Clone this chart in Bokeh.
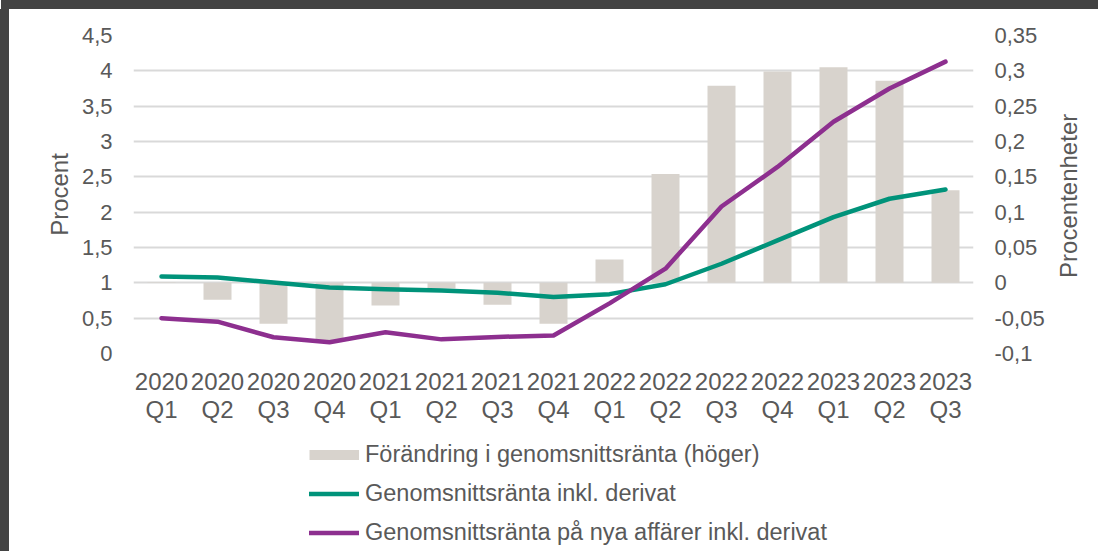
import math
from bokeh.plotting import figure
from bokeh.layouts import column, row
from bokeh.models import (Range1d, LinearAxis, FixedTicker, CustomJSTickFormatter,
                          Legend, LegendItem, FactorRange, Div)
from bokeh.embed import file_html
from bokeh.resources import INLINE

quarters = ["2020\nQ1", "2020\nQ2", "2020\nQ3", "2020\nQ4",
            "2021\nQ1", "2021\nQ2", "2021\nQ3", "2021\nQ4",
            "2022\nQ1", "2022\nQ2", "2022\nQ3", "2022\nQ4",
            "2023\nQ1", "2023\nQ2", "2023\nQ3"]
# Förändring i genomsnittsränta (höger axel, procentenheter)
change = [0.001, -0.024, -0.058, -0.081, -0.032, -0.008, -0.031, -0.058,
          0.033, 0.154, 0.279, 0.299, 0.305, 0.286, 0.131]
# Genomsnittsränta inkl. derivat (procent)
avg_rate = [1.09, 1.075, 1.005, 0.935, 0.91, 0.89, 0.86, 0.80,
            0.84, 0.98, 1.27, 1.60, 1.93, 2.19, 2.32]
# Genomsnittsränta på nya affärer inkl. derivat (procent)
new_rate = [0.50, 0.45, 0.23, 0.16, 0.30, 0.20, 0.235, 0.255,
            0.71, 1.20, 2.08, 2.64, 3.28, 3.75, 4.13]

left_ticks = [0, 0.5, 1, 1.5, 2, 2.5, 3, 3.5, 4, 4.5]
right_ticks = [-0.1, -0.05, 0, 0.05, 0.1, 0.15, 0.2, 0.25, 0.3, 0.35]

left_title = "Procent"
right_title = "Procentenheter"
labels = ["Förändring i genomsnittsränta (höger)",
          "Genomsnittsränta inkl. derivat",
          "Genomsnittsränta på nya affärer inkl. derivat"]

FONT = "Liberation Sans"
TXT = "#595959"
BAR = "#D8D3CD"
TEAL = "#00937A"
PURPLE = "#8D2F8F"
DARK = "#434343"

# ---------------- main chart ----------------
p = figure(x_range=FactorRange(factors=quarters), y_range=Range1d(0, 4.5),
           width=1089, height=420, output_backend="svg", toolbar_location=None,
           min_border_left=124, min_border_right=125, min_border_top=26,
           min_border_bottom=76)
p.extra_y_ranges = {"chg": Range1d(-0.1, 0.35)}
p.outline_line_color = None
p.background_fill_color = "white"
p.border_fill_color = "white"

fmt = CustomJSTickFormatter(code="return tick.toString().replace('.', ',');")

la = p.yaxis[0]
la.ticker = FixedTicker(ticks=left_ticks)
la.formatter = fmt
la.axis_label = left_title

ra = LinearAxis(y_range_name="chg", ticker=FixedTicker(ticks=right_ticks), formatter=fmt)
p.add_layout(ra, "right")

# right-hand axis title, reading bottom-to-top like the reference
# (a single rotated label; its anchor is its lower end)
rt = LinearAxis(y_range_name="chg", ticker=FixedTicker(ticks=[0.007]),
                formatter=CustomJSTickFormatter(args=dict(t=right_title), code="return t;"))
rt.major_label_orientation = math.pi / 2
p.add_layout(rt, "right")

for ax in [la, ra, rt]:
    ax.axis_line_color = None
    ax.major_tick_line_color = None
    ax.minor_tick_line_color = None
    ax.major_label_text_font = FONT
    ax.major_label_text_font_size = "22px"
    ax.major_label_text_color = TXT
    ax.major_label_standoff = 15
    ax.axis_label_text_font = FONT
    ax.axis_label_text_font_size = "24px"
    ax.axis_label_text_font_style = "normal"
    ax.axis_label_text_color = TXT
la.axis_label_standoff = 6
rt.major_label_text_font_size = "24px"
rt.major_label_standoff = 15

xa = p.xaxis[0]
xa.axis_line_color = None
xa.major_tick_line_color = None
xa.minor_tick_line_color = None
xa.major_label_text_font = FONT
xa.major_label_text_font_size = "24px"
xa.major_label_text_color = TXT
xa.major_label_text_line_height = 1.06
xa.major_label_standoff = 8

p.xgrid.grid_line_color = None
p.ygrid.ticker = FixedTicker(ticks=left_ticks)
p.ygrid.grid_line_color = "#D9D9D9"
p.ygrid.grid_line_width = 2

p.vbar(x=quarters, top=change, bottom=0, width=0.5, fill_color=BAR,
       line_color=None, y_range_name="chg")
p.line(quarters, avg_rate, line_color=TEAL, line_width=4.5,
       line_join="round", line_cap="round")
p.line(quarters, new_rate, line_color=PURPLE, line_width=4.5,
       line_join="round", line_cap="round")

# ---------------- legend strip ----------------
# the same series drawn outside this strip's visible y range, only as legend keys
lg = figure(width=1089, height=122, output_backend="svg", toolbar_location=None,
            x_range=FactorRange(factors=quarters), y_range=Range1d(100, 101),
            min_border_left=0, min_border_right=0, min_border_top=0, min_border_bottom=0)
lg.axis.visible = False
lg.grid.grid_line_color = None
lg.outline_line_color = None
k_bar = lg.line(quarters, change, line_color=BAR, line_width=10, line_cap="butt")
k_avg = lg.line(quarters, avg_rate, line_color=TEAL, line_width=4.5, line_cap="round")
k_new = lg.line(quarters, new_rate, line_color=PURPLE, line_width=4.5, line_cap="round")
legend = Legend(items=[LegendItem(label=labels[0], renderers=[k_bar]),
                       LegendItem(label=labels[1], renderers=[k_avg]),
                       LegendItem(label=labels[2], renderers=[k_new])],
                location=(176, 5), glyph_width=50, glyph_height=27,
                label_height=27, spacing=12, padding=0, margin=0,
                border_line_color=None, background_fill_alpha=0,
                label_text_font=FONT, label_text_font_size="23.5px",
                label_text_color=TXT, label_standoff=6)
lg.add_layout(legend)

top_band = Div(text="", width=1097, height=9, margin=(0, 0, 0, 1),
               styles={"background-color": DARK})
left_band = Div(text="", width=9, height=542, margin=0,
                styles={"background-color": DARK})
layout = column(top_band,
                row(left_band, column(p, lg, spacing=0), spacing=0),
                spacing=0)

html = file_html(layout, INLINE)
open("out.html", "w").write(html)
